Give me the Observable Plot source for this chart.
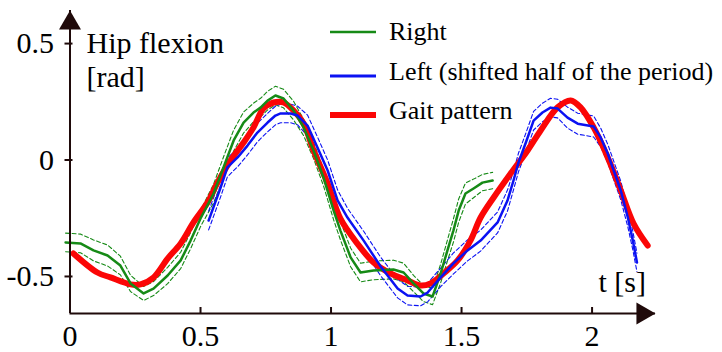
<!DOCTYPE html>
<html><head><meta charset="utf-8">
<script src="https://cdn.jsdelivr.net/npm/d3@7"></script>
<script src="https://cdn.jsdelivr.net/npm/@observablehq/plot@0.6"></script>
<style>
body{margin:0;background:#fff}
#chart{width:722px;height:352px;overflow:hidden}
</style>
</head><body><div id="chart"></div>
<script>
// ---- data ----
const rightT = [-0.017,0.040,0.090,0.144,0.193,0.232,0.282,0.320,0.374,0.424,0.462,0.500,0.550,0.588,0.627,0.665,0.703,0.730,0.757,0.787,0.818,0.856,0.895,0.933,0.971,1.010,1.036,1.075,1.113,1.163,1.239,1.278,1.316,1.354,1.389,1.420,1.446,1.469,1.489,1.515,1.546,1.580,1.619];
const rightV = [-0.354,-0.358,-0.388,-0.410,-0.453,-0.530,-0.573,-0.552,-0.496,-0.431,-0.346,-0.251,-0.144,-0.032,0.084,0.161,0.204,0.225,0.255,0.277,0.264,0.213,0.140,0.041,-0.075,-0.217,-0.303,-0.418,-0.483,-0.474,-0.470,-0.483,-0.530,-0.573,-0.586,-0.487,-0.388,-0.302,-0.217,-0.144,-0.122,-0.097,-0.088];
const rightSd = [0.04,0.04,0.045,0.045,0.04,0.035,0.03,0.03,0.035,0.035,0.035,0.035,0.04,0.045,0.045,0.045,0.04,0.04,0.04,0.04,0.04,0.04,0.035,0.035,0.035,0.04,0.04,0.04,0.04,0.04,0.04,0.04,0.035,0.035,0.035,0.04,0.045,0.05,0.05,0.045,0.04,0.035,0.035];

const leftT = [0.531,0.538,0.577,0.603,0.642,0.680,0.718,0.757,0.787,0.807,0.845,0.872,0.910,0.948,0.987,1.025,1.063,1.125,1.190,1.255,1.293,1.343,1.370,1.420,1.469,1.523,1.573,1.638,1.676,1.699,1.718,1.745,1.776,1.810,1.841,1.868,1.906,1.945,2.006,2.033,2.060,2.083,2.110,2.137,2.156,2.172];
const leftV = [-0.260,-0.239,-0.118,-0.032,0.011,0.062,0.118,0.161,0.191,0.200,0.200,0.191,0.148,0.054,-0.045,-0.173,-0.247,-0.346,-0.457,-0.552,-0.582,-0.586,-0.569,-0.504,-0.444,-0.388,-0.346,-0.268,-0.174,-0.088,-0.011,0.071,0.169,0.204,0.225,0.221,0.182,0.156,0.144,0.097,0.028,-0.045,-0.131,-0.247,-0.345,-0.440];
const leftSd = [0.04,0.04,0.04,0.04,0.04,0.04,0.04,0.04,0.04,0.04,0.04,0.04,0.045,0.045,0.045,0.045,0.04,0.04,0.04,0.04,0.04,0.04,0.04,0.04,0.045,0.045,0.045,0.045,0.045,0.04,0.04,0.04,0.04,0.04,0.04,0.04,0.045,0.045,0.045,0.04,0.04,0.04,0.04,0.04,0.04,0.04];

const gaitT = [0.013,0.105,0.155,0.232,0.270,0.320,0.374,0.424,0.473,0.527,0.565,0.615,0.665,0.703,0.741,0.780,0.818,0.856,0.895,0.933,0.987,1.036,1.101,1.163,1.228,1.293,1.343,1.381,1.431,1.485,1.534,1.573,1.623,1.688,1.753,1.803,1.868,1.918,1.956,2.006,2.060,2.110,2.159,2.213];
const gaitV = [-0.401,-0.483,-0.504,-0.534,-0.534,-0.504,-0.423,-0.358,-0.268,-0.182,-0.097,-0.002,0.075,0.140,0.221,0.247,0.247,0.213,0.157,0.041,-0.101,-0.252,-0.359,-0.440,-0.487,-0.517,-0.539,-0.530,-0.487,-0.431,-0.346,-0.247,-0.161,-0.058,0.041,0.127,0.226,0.256,0.226,0.140,0.011,-0.131,-0.273,-0.367];

const xTicks = [0, 0.5, 1, 1.5, 2];
const yTicks = [-0.5, 0, 0.5];
const legendLabels = ["Right", "Left (shifted half of the period)", "Gait pattern"];
const yTitle = ["Hip flexion", "[rad]"];
const xTitle = "t [s]";

// ---- styling ----
const GREEN = "#168a16", BLUE = "#0b12f2", RED = "#fb0606", AXIS = "#1f0a0a";
const FONT = "'Liberation Serif', 'Times New Roman', serif";
const xMax = 2.243, yMin = -0.659, yMax = 0.642;

const rows = (T, V, S) => T.map((t, i) => ({t, v: V[i], lo: S ? V[i] - S[i] : null, hi: S ? V[i] + S[i] : null}));
const right = rows(rightT, rightV, rightSd);
const left = rows(leftT, leftV, leftSd);
const gait = rows(gaitT, gaitV, null);

const dash = {strokeWidth: 1.1, strokeDasharray: "4,2.5"};
const fmt = d => d === 0 ? "0" : String(d);
const txt = {fontFamily: FONT, fontSize: 30, fill: "black"};

const chart = Plot.plot({
  width: 722, height: 352,
  marginLeft: 69.5, marginRight: 67, marginTop: 10, marginBottom: 39,
  style: {fontFamily: FONT, background: "white", overflow: "visible"},
  x: {domain: [0, xMax], label: null},
  y: {domain: [yMin, yMax], label: null},
  marks: [
    Plot.line(right, {x: "t", y: "hi", stroke: GREEN, ...dash}),
    Plot.line(right, {x: "t", y: "lo", stroke: GREEN, ...dash}),
    Plot.line(left, {x: "t", y: "hi", stroke: BLUE, ...dash}),
    Plot.line(left, {x: "t", y: "lo", stroke: BLUE, ...dash}),
    Plot.line(gait, {x: "t", y: "v", stroke: RED, strokeWidth: 6, curve: "catmull-rom", strokeLinejoin: "round"}),
    Plot.line(right, {x: "t", y: "v", stroke: GREEN, strokeWidth: 2.5, strokeLinejoin: "round"}),
    Plot.line(left, {x: "t", y: "v", stroke: BLUE, strokeWidth: 2.5, strokeLinejoin: "round"}),
    // axes lines
    Plot.ruleX([0], {y1: yMin, y2: yMax, stroke: AXIS, strokeWidth: 2}),
    Plot.ruleY([yMin], {x1: 0, x2: xMax, stroke: AXIS, strokeWidth: 2}),
    // arrow heads
    Plot.dot([{x: 0, y: yMax}], {x: "x", y: "y", symbol: "triangle2", r: 10.5, fill: AXIS, stroke: "none", dy: 12.7}),
    Plot.dot([{x: xMax, y: yMin}], {x: "x", y: "y", symbol: "triangle2", r: 10.5, fill: AXIS, stroke: "none", rotate: 90, dx: -12.7}),
    // ticks
    Plot.axisX({ticks: xTicks.filter(d => d !== 0), tickSize: 6, dy: -6, tickFormat: () => "", stroke: AXIS, strokeWidth: 2}),
    Plot.axisX({ticks: xTicks, tickSize: 0, tickPadding: 11, tickFormat: fmt, ...txt}),
    Plot.axisY({ticks: yTicks, tickSize: 8, dx: 3, tickFormat: () => "", stroke: AXIS, strokeWidth: 2}),
    Plot.axisY({ticks: yTicks, tickSize: 0, tickPadding: 16, tickFormat: fmt, ...txt}),
    // axis titles
    Plot.text([yTitle[0]], {text: d => d, frameAnchor: "top-left", textAnchor: "start", lineAnchor: "bottom", dx: 16.5, dy: 42, ...txt}),
    Plot.text([yTitle[1]], {text: d => d, frameAnchor: "top-left", textAnchor: "start", lineAnchor: "bottom", dx: 16.5, dy: 76, ...txt}),
    Plot.text([xTitle], {text: d => d, frameAnchor: "bottom-right", textAnchor: "start", lineAnchor: "bottom", dx: -57, dy: -22, ...txt})
  ]
});

// legend drawn into the same svg
const svg = d3.select(chart);
const legendStyle = [
  {color: GREEN, width: 2.5, lineY: 32, textY: 40},
  {color: BLUE, width: 3, lineY: 76, textY: 80},
  {color: RED, width: 6, lineY: 115, textY: 119}
];
const lg = svg.append("g").attr("font-family", FONT).attr("font-size", 26).attr("text-anchor", "start");
legendLabels.forEach((label, i) => {
  const s = legendStyle[i];
  lg.append("line").attr("x1", 330).attr("x2", 376).attr("y1", s.lineY).attr("y2", s.lineY)
    .attr("stroke", s.color).attr("stroke-width", s.width);
  lg.append("text").attr("x", 389).attr("y", s.textY).attr("fill", "black").attr("text-anchor", "start").text(label);
});

document.getElementById("chart").appendChild(chart);
</script>
</body></html>
